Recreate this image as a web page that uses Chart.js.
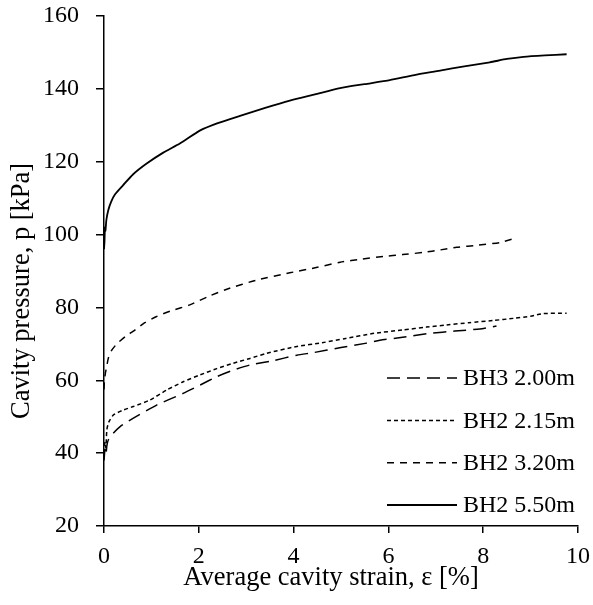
<!DOCTYPE html>
<html>
<head>
<meta charset="utf-8">
<script src="https://cdn.jsdelivr.net/npm/chart.js@4.4.0/dist/chart.umd.min.js"></script>
<style>
html,body{margin:0;padding:0;background:#fff;}
canvas{display:block;}
</style>
</head>
<body>
<canvas id="c" width="593" height="605"></canvas>
<script>
// ---- data ----
const seriesNames = ["BH3 2.00m", "BH2 2.15m", "BH2 3.20m", "BH2 5.50m"];

const bh3_200_x = [0, 0.02, 0.04, 0.06, 0.09, 0.2, 0.34, 0.62, 1.11, 1.67, 2.03, 2.38, 2.73, 3.08, 3.57, 4.07, 4.42, 5.0, 5.54, 5.82, 6.3, 6.88, 7.4, 7.93, 8.28];
const bh3_200_y = [38, 41, 39.5, 42, 43.6, 45.5, 47.3, 49.6, 53.2, 56.4, 58.7, 61, 62.8, 64.2, 65.4, 66.9, 67.6, 69, 70.2, 71, 71.8, 72.9, 73.5, 74.1, 74.9];

const bh2_215_x = [0, 0.02, 0.04, 0.06, 0.1, 0.2, 0.4, 0.62, 0.97, 1.32, 1.67, 2.03, 2.38, 2.73, 3.08, 3.43, 4.07, 4.6, 5.1, 5.7, 6.3, 6.8, 7.23, 7.7, 8.2, 8.64, 9.0, 9.27, 9.76];
const bh2_215_y = [40, 43, 41.5, 46.4, 48.5, 50.5, 51.8, 52.8, 54.6, 57.3, 59.6, 61.5, 63.2, 64.7, 66, 67.4, 69.3, 70.3, 71.5, 72.9, 73.8, 74.6, 75.2, 75.8, 76.4, 77, 77.6, 78.3, 78.4];

const bh2_320_x = [0, 0.01, 0.03, 0.06, 0.09, 0.15, 0.27, 0.45, 0.62, 0.86, 1.11, 1.4, 1.81, 2.2, 2.59, 3.22, 3.92, 4.5, 4.98, 5.45, 5.89, 6.3, 6.74, 7.1, 7.44, 7.9, 8.35, 8.6];
const bh2_320_y = [57.5, 60, 62, 64, 66, 68, 70, 72, 73.5, 75.8, 77.5, 79, 80.7, 83, 85, 87.5, 89.5, 91, 92.4, 93.3, 94, 94.5, 95.1, 95.8, 96.5, 97.1, 97.8, 98.7];

const bh2_550_x = [0, 0.01, 0.02, 0.03, 0.05, 0.09, 0.15, 0.23, 0.4, 0.61, 0.9, 1.25, 1.6, 2.03, 2.4, 2.87, 3.4, 3.92, 4.45, 4.98, 5.5, 6.03, 6.55, 7.09, 7.6, 8.14, 8.5, 8.85, 9.3, 9.76];
const bh2_550_y = [96, 98, 102, 101, 104, 106.7, 109, 111, 113.5, 116.5, 119.5, 122.5, 125, 128.6, 130.6, 132.6, 134.8, 136.8, 138.5, 140.2, 141.3, 142.4, 143.8, 145, 146.2, 147.3, 148.2, 148.8, 149.2, 149.5];

const xTicks = [0, 2, 4, 6, 8, 10];
const yTicks = [20, 40, 60, 80, 100, 120, 140, 160];

// ---- helpers ----
function pts(xs, ys) { return xs.map((x, i) => ({x: x, y: ys[i]})); }

const FONT = "'Liberation Serif', 'Times New Roman', serif";
Chart.defaults.font.family = FONT;
Chart.defaults.color = '#000';

const dashes = [[13, 7], [4, 3], [7, 6], []];
const widths = [1.5, 1.5, 1.5, 1.8];
const allX = [bh3_200_x, bh2_215_x, bh2_320_x, bh2_550_x];
const allY = [bh3_200_y, bh2_215_y, bh2_320_y, bh2_550_y];

const datasets = seriesNames.map((n, i) => ({
  label: n,
  data: pts(allX[i], allY[i]),
  borderColor: '#000',
  backgroundColor: '#000',
  borderWidth: widths[i],
  borderDash: dashes[i],
  pointRadius: 0,
  tension: 0.2,
  fill: false
}));

const insideLegend = {
  id: 'insideLegend',
  afterDatasetsDraw(chart) {
    const ctx = chart.ctx;
    const ca = chart.chartArea;
    const textX = ca.right - 115;
    const lineX0 = ca.right - 191;
    const lineX1 = ca.right - 121;
    const rowGap = 42.3;
    const lastY = ca.bottom - 21;
    ctx.save();
    ctx.font = "24px " + FONT;
    ctx.textBaseline = 'middle';
    ctx.fillStyle = '#000';
    chart.data.datasets.forEach((ds, i) => {
      const y = lastY - (chart.data.datasets.length - 1 - i) * rowGap;
      ctx.beginPath();
      ctx.setLineDash(ds.borderDash || []);
      ctx.lineWidth = ds.borderWidth;
      ctx.strokeStyle = ds.borderColor;
      ctx.moveTo(lineX0, y);
      ctx.lineTo(lineX1, y);
      ctx.stroke();
      ctx.setLineDash([]);
      ctx.fillText(ds.label, textX, y + 1);
    });
    ctx.restore();
  }
};

function zeroPad(s) { s.paddingTop = 0; s.paddingBottom = 0; s.paddingLeft = 0; s.paddingRight = 0; }

const NB = '\u00A0';

new Chart(document.getElementById('c'), {
  type: 'line',
  data: { datasets: datasets },
  plugins: [insideLegend],
  options: {
    responsive: false,
    animation: false,
    devicePixelRatio: 1,
    layout: { padding: { left: 0, top: 16, right: 15, bottom: 0 } },
    plugins: { legend: { display: false }, tooltip: { enabled: false } },
    scales: {
      x: {
        type: 'linear',
        min: 0, max: 10,
        afterBuildTicks(s) { s.ticks = xTicks.map(v => ({value: v})); },
        afterFit(s) { s.height = 79; zeroPad(s); },
        grid: { drawOnChartArea: false, drawTicks: true, tickLength: 7, color: '#000', lineWidth: 1.5 },
        border: { display: true, color: '#000', width: 1.5 },
        ticks: { padding: 9, font: { size: 24 }, color: '#000', maxRotation: 0 },
        title: { display: true, text: 'Average cavity strain, ε [%]' + NB.repeat(3), font: { size: 26.5 }, color: '#000', padding: { top: 0, bottom: 11 } }
      },
      y: {
        type: 'linear',
        min: 20, max: 160,
        afterBuildTicks(s) { s.ticks = yTicks.map(v => ({value: v})); },
        afterFit(s) { s.width = 104; zeroPad(s); },
        grid: { drawOnChartArea: false, drawTicks: true, tickLength: 8, color: '#000', lineWidth: 1.5 },
        border: { display: true, color: '#000', width: 1.5 },
        ticks: { padding: 17, font: { size: 24 }, color: '#000' },
        title: { display: true, text: 'Cavity pressure, p [kPa]' + NB.repeat(6), font: { size: 26.5 }, color: '#000', padding: { top: 6, bottom: 0 } }
      }
    }
  }
});
</script>
</body>
</html>
